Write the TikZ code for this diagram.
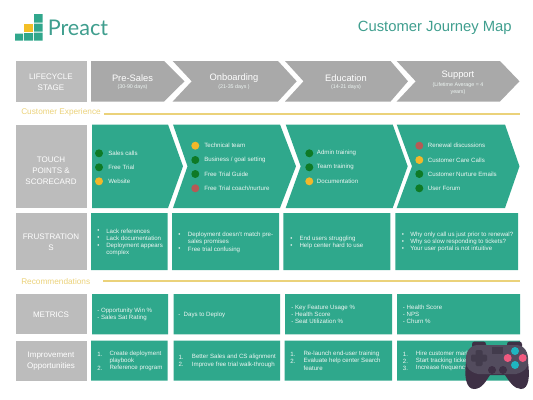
\documentclass[tikz,border=0pt]{standalone}
\usepackage{fontspec}
\setmainfont{Liberation Sans}
\newfontfamily\logofont{Lato}
\definecolor{tealc}{HTML}{2FA88C}
\definecolor{greyl}{HTML}{BCBCBC}
\definecolor{greyc}{HTML}{A9A9A9}
\definecolor{yell}{HTML}{EBD27A}
\definecolor{titlec}{HTML}{3F9E8E}
\definecolor{dgreen}{HTML}{0E7A26}
\definecolor{dyellow}{HTML}{F2B82A}
\definecolor{dred}{HTML}{B65A55}
\definecolor{softw}{HTML}{EEF6F3}
\definecolor{padlight}{HTML}{534C5E}
\definecolor{paddark}{HTML}{3E3045}
\definecolor{padmid}{HTML}{423B4C}
\definecolor{padcyan}{HTML}{1FB5C0}
\definecolor{padpink}{HTML}{F0597F}
\tikzset{
  x=0.75pt,y=-0.75pt,
  chevg/.style={fill=greyc,draw=none},
  chevt/.style={fill=tealc,draw=none},
  boxt/.style={fill=tealc,draw=none},
  boxg/.style={fill=greyl,draw=none},
  lbl/.style={text=white,font=\fontsize{6}{8.2}\selectfont,align=center,inner sep=0pt},
  head/.style={text=white,font=\fontsize{7}{8}\selectfont,align=center,inner sep=0pt},
  sub/.style={text=softw,font=\fontsize{4}{5.4}\selectfont,align=center,inner sep=0pt},
  txt/.style={text=softw,font=\fontsize{4.6}{5.4}\selectfont,anchor=west,inner sep=0pt},
  sect/.style={text=yell,font=\fontsize{6.2}{7}\selectfont,anchor=west,inner sep=0pt},
  rule/.style={draw=yell,line width=1.3pt},
  gdot/.style={circle,fill=dgreen,minimum size=6pt,inner sep=0pt},
  ydot/.style={circle,fill=dyellow,minimum size=6pt,inner sep=0pt},
  rdot/.style={circle,fill=dred,minimum size=6pt,inner sep=0pt},
}
\begin{document}
\begin{tikzpicture}
\useasboundingbox (0,0) rectangle (533,400);
% logo
\fill[tealc!85!titlec] (15,33.5) rectangle (23,40.5) (24,33) rectangle (33,40.5) (34,32.5) rectangle (42.5,40.5)
  (34,23.5) rectangle (42.5,31.5) (34,14) rectangle (42.5,22.5);
\fill[dyellow!90!yellow] (24,23.5) rectangle (33,31.5);
\node[text=titlec,font=\logofont\fontsize{16.2}{20}\selectfont,anchor=west,inner sep=0pt] (logo) at (47.5,28) {Preact};
\node[text=titlec,font=\fontsize{11.1}{14}\selectfont,anchor=east,inner sep=0pt] (title) at (512,28) {Customer Journey Map};
% lifecycle row
\fill[boxg] (16,61) rectangle (86.5,101.5);
\node[lbl] (lifecycle) at (51,82) {LIFECYCLE\\STAGE};
\fill[chevg] (91,61) -- (164,61) -- (184.5,81.3) -- (164,101.5) -- (91,101.5) -- cycle;
\fill[chevg] (172.7,61) -- (278,61) -- (296.7,81.3) -- (278,101.5) -- (172.7,101.5) -- (191.7,81.3) -- cycle;
\fill[chevg] (285,61) -- (390.6,61) -- (408,81.3) -- (390.6,101.5) -- (285,101.5) -- (303.5,81.3) -- cycle;
\fill[chevg] (396.7,61) -- (500,61) -- (519.5,81.3) -- (500,101.5) -- (396.7,101.5) -- (415.7,81.3) -- cycle;
\node[head] (presales) at (132.5,78) {Pre-Sales};
\node[sub] (presalesd) at (132.5,87) {(30-90 days)};
\node[head] (onboard) at (234,78) {Onboarding};
\node[sub] (onboardd) at (234,87) {(21-35 days )};
\node[head] (educ) at (346,78) {Education};
\node[sub] (educd) at (346,87) {(14-21 days)};
\node[head] (supp) at (458,75) {Support};
\node[sub] (suppd) at (458,89) {(Lifetime Average = 4\\years)};
% customer experience
\node[sect] (cx) at (21,112.5) {Customer Experience};
\coordinate (cxa) at (104,114); \coordinate (cxb) at (520,114);
\draw[rule] (cxa) -- (cxb);
% touch points
\fill[boxg] (16,124.5) rectangle (86.5,208);
\node[lbl] (touch) at (51,171) {TOUCH\\POINTS \&\\SCORECARD};
\fill[chevt] (92,124.5) -- (168,124.5) -- (183,166.3) -- (168,208) -- (92,208) -- cycle;
\fill[chevt] (173,124.5) -- (280,124.5) -- (296,166.3) -- (280,208) -- (173,208) -- (187.5,166.3) -- cycle;
\fill[chevt] (285.7,124.5) -- (392.7,124.5) -- (407.7,166.3) -- (392.7,208) -- (285.7,208) -- (300.7,166.3) -- cycle;
\fill[chevt] (396.7,124.5) -- (505,124.5) -- (519.5,166.3) -- (505,208) -- (396.7,208) -- (412,166.3) -- cycle;
\node[gdot] (d11) at (99,153.3) {};  \node[txt] (t11) at (108,153.3) {Sales calls};
\node[gdot] (d12) at (99,167.3) {};  \node[txt] (t12) at (108,167.3) {Free Trial};
\node[ydot] (d13) at (99,181.3) {};  \node[txt] (t13) at (108,181.3) {Website};
\node[ydot] (d21) at (195.3,145.7) {}; \node[txt] (t21) at (204,145.7) {Technical team};
\node[gdot] (d22) at (195.3,160) {};   \node[txt] (t22) at (204,160) {Business / goal setting};
\node[gdot] (d23) at (195.3,174) {};   \node[txt] (t23) at (204,174) {Free Trial Guide};
\node[rdot] (d24) at (195.3,188.3) {}; \node[txt] (t24) at (204,188.3) {Free Trial coach/nurture};
\node[gdot] (d31) at (309.3,153.3) {}; \node[txt] (t31) at (316.7,153.3) {Admin training};
\node[gdot] (d32) at (309.3,167.3) {}; \node[txt] (t32) at (316.7,167.3) {Team training};
\node[ydot] (d33) at (309.3,181.3) {}; \node[txt] (t33) at (316.7,181.3) {Documentation};
\node[rdot] (d41) at (419.3,145.7) {}; \node[txt] (t41) at (427.7,145.7) {Renewal discussions};
\node[ydot] (d42) at (419.3,160) {};   \node[txt] (t42) at (427.7,160) {Customer Care Calls};
\node[gdot] (d43) at (419.3,174) {};   \node[txt] (t43) at (427.7,174) {Customer Nurture Emails};
\node[gdot] (d44) at (419.3,188.3) {}; \node[txt] (t44) at (427.7,188.3) {User Forum};
% frustrations
\fill[boxg] (16,213) rectangle (86.5,270);
\node[lbl] (frust) at (51,242) {FRUSTRATION\\S};
\fill[boxt] (91,213) rectangle (167.5,270) (172,213) rectangle (279,270) (283.3,213) rectangle (390.3,270) (395.3,213) rectangle (518,270);
\node[txt] (f1a) at (97,231) {•}; \node[txt] (f1at) at (106,231) {Lack references};
\node[txt] (f1b) at (97,238.3) {•}; \node[txt] (f1bt) at (106,238.3) {Lack documentation};
\node[txt] (f1c) at (97,245.7) {•}; \node[txt] (f1ct) at (106,245.7) {Deployment appears};
\node[txt] (f1d) at (106,253) {complex};
\node[txt] (f2a) at (178,235) {•}; \node[txt] (f2at) at (187.7,235) {Deployment doesn't match pre-};
\node[txt] (f2b) at (187.7,242.3) {sales promises};
\node[txt] (f2c) at (178,249.5) {•}; \node[txt] (f2ct) at (187.7,249.5) {Free trial confusing};
\node[txt] (f3a) at (290,239) {•}; \node[txt] (f3at) at (299.3,239) {End users struggling};
\node[txt] (f3b) at (290,246) {•}; \node[txt] (f3bt) at (299.3,246) {Help center hard to use};
\node[txt] (f4a) at (401.7,235.3) {•}; \node[txt] (f4at) at (410,235.3) {Why only call us just prior to renewal?};
\node[txt] (f4b) at (401.7,242.3) {•}; \node[txt] (f4bt) at (410,242.3) {Why so slow responding to tickets?};
\node[txt] (f4c) at (401.7,249.3) {•}; \node[txt] (f4ct) at (410,249.3) {Your user portal is not intuitive};
% recommendations
\node[sect] (rec) at (21,281.5) {Recommendations};
\coordinate (reca) at (103,281.3); \coordinate (recb) at (520,281.3);
\draw[rule] (reca) -- (recb);
% metrics
\fill[boxg] (16,294) rectangle (86.5,334.3);
\node[lbl] (metrics) at (51,314.5) {METRICS};
\fill[boxt] (92,294) rectangle (168,334.3) (173.5,294) rectangle (280,334.3) (285,294) rectangle (392,334.3) (397,294) rectangle (520,334.3);
\node[txt] (m1a) at (97,310.7) {- Opportunity Win \%};
\node[txt] (m1b) at (97,318) {- Sales Sat Rating};
\node[txt] (m2a) at (178,314.7) {-\ \ Days to Deploy};
\node[txt] (m3a) at (291,307.7) {- Key Feature Usage \%};
\node[txt] (m3b) at (291,314.7) {- Health Score};
\node[txt] (m3c) at (291,321.7) {- Seat Utilization \%};
\node[txt] (m4a) at (402.7,307.7) {- Health Score};
\node[txt] (m4b) at (402.7,314.7) {- NPS};
\node[txt] (m4c) at (402.7,321.7) {- Churn \%};
% improvement
\fill[boxg] (16,340.7) rectangle (86.5,380.7);
\node[lbl] (improve) at (51,361) {Improvement\\Opportunities};
\fill[boxt] (91,340.7) rectangle (167.5,380.7) (173.5,340.7) rectangle (280,380.7) (284.7,340.7) rectangle (392,380.7) (397,340.7) rectangle (520,380.7);
\node[txt] (i1a) at (97,354) {1.}; \node[txt] (i1at) at (109.3,354) {Create deployment};
\node[txt] (i1b) at (109.3,361.3) {playbook};
\node[txt] (i1c) at (97,368.3) {2.}; \node[txt] (i1ct) at (109.3,368.3) {Reference program};
\node[txt] (i2a) at (178.3,357.3) {1.}; \node[txt] (i2at) at (191.7,357.3) {Better Sales and CS alignment};
\node[txt] (i2b) at (178.3,364.7) {2.}; \node[txt] (i2bt) at (191.7,364.7) {Improve free trial walk-through};
\node[txt] (i3a) at (290,354) {1.}; \node[txt] (i3at) at (303.3,354) {Re-launch end-user training};
\node[txt] (i3b) at (290,361) {2.}; \node[txt] (i3bt) at (303.3,361) {Evaluate help center Search};
\node[txt] (i3c) at (303.3,368) {feature};
\node[txt] (i4a) at (402.7,354) {1.}; \node[txt] (i4at) at (415.7,354) {Hire customer marketing};
\node[txt] (i4b) at (402.7,361) {2.}; \node[txt] (i4bt) at (415.7,361) {Start tracking tickets};
\node[txt] (i4c) at (402.7,368) {3.}; \node[txt] (i4ct) at (415.7,368) {Increase frequency};
% game pad
\fill[paddark,rounded corners=2pt] (472,341.5) rectangle (486,350);
\fill[paddark,rounded corners=2pt] (507,341.5) rectangle (522,350);
\fill[paddark] (466,362) .. controls (464,376) and (466,389) .. (474,389)
  .. controls (482,389) and (486,381) .. (490,375) -- (505,375)
  .. controls (509,381) and (514,389) .. (521,389)
  .. controls (529,389) and (530,376) .. (528,362) -- cycle;
\fill[padlight] (466,362) .. controls (465,352) and (470,345) .. (478,345)
  -- (516,345) .. controls (524,345) and (529,352) .. (528,362)
  .. controls (528,368) and (524,372) .. (516,374) -- (478,374)
  .. controls (470,372) and (466,368) .. (466,362) -- cycle;
\fill[padmid] (492,347) rectangle (503,354);
\fill[padmid,rounded corners=1pt] (475.5,350) rectangle (482.5,366);
\fill[padmid,rounded corners=1pt] (471,354.5) rectangle (487,361.5);
\fill[paddark] (492,370) circle[radius=4] (503,370) circle[radius=4];
\fill[padcyan] (515,351) circle[radius=4] (515,365) circle[radius=4];
\fill[padpink] (507.7,358) circle[radius=4] (522.7,358) circle[radius=4];
\end{tikzpicture}
\end{document}
